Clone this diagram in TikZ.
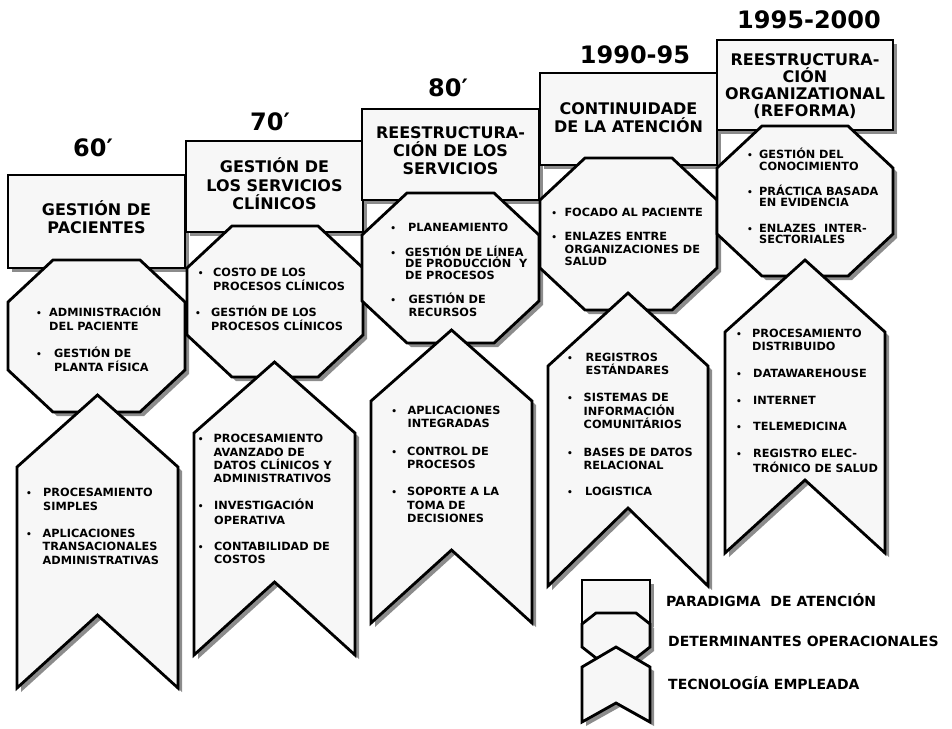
\documentclass[tikz,border=0pt]{standalone}
\usepackage{fontspec}
\setmainfont{DejaVu Sans}
\usetikzlibrary{shadows}

\definecolor{boxfill}{HTML}{F7F7F7}
\definecolor{shadegray}{HTML}{8C8C8C}

\tikzset{
  panel/.style={draw=black, line width=2.8pt, fill=boxfill, line join=miter,
    drop shadow={shadow xshift=4pt, shadow yshift=-4pt, fill=shadegray, opacity=1}},
  yearlbl/.style={font=\bfseries\fontsize{24}{24}\selectfont, anchor=base, inner sep=0pt},
  titlelbl/.style={font=\bfseries\fontsize{16}{16}\selectfont, anchor=base, inner sep=0pt},
  txt/.style={font=\bfseries\fontsize{11.3}{12}\selectfont, anchor=base west, inner sep=0pt},
  bul/.style={font=\bfseries\fontsize{9}{9}\selectfont, anchor=base, inner sep=0pt},
  legtxt/.style={font=\bfseries\fontsize{14}{14}\selectfont, anchor=base west, inner sep=0pt},
}

% rectangle panel: L, T, R, B
\newcommand\drawrectpanel[4]{%
  \draw[panel] (#1,#2) rectangle (#3,#4);}
% octagon panel: L, T, R, B, corner cut x, corner cut y
\newcommand\drawoct[6]{%
  \draw[panel] ({#1+#5},#2) -- ({#3-#5},#2) -- (#3,{#2+#6}) -- (#3,{#4-#6})
    -- ({#3-#5},#4) -- ({#1+#5},#4) -- (#1,{#4-#6}) -- (#1,{#2+#6}) -- cycle;}
% pennant panel: L, R, apex y, shoulder y, notch y, bottom y
\newcommand\drawchev[6]{%
  \draw[panel] (#1,#4) -- ({(#1+#2)/2},#3) -- (#2,#4) -- (#2,#6)
    -- ({(#1+#2)/2},#5) -- (#1,#6) -- cycle;}
% centred title lines: name, x, first baseline, line step, lines
\newcommand\titlelines[5]{%
  \foreach \txtline [count=\idx] in {#5}
    \node[titlelbl] (#1-\idx) at (#2,{#3+(\idx-1)*#4}) {\txtline};}
% bulleted item: name, bullet x, text x, first baseline, line step, lines
\newcommand\bitem[6]{%
  \node[bul] (#1-b) at (#2,#4) {•};
  \foreach \txtline [count=\idx] in {#6}
    \node[txt] (#1-\idx) at (#3,{#4+(\idx-1)*#5}) {\txtline};}

\begin{document}
\begin{tikzpicture}[x=1pt, y=-1pt]
\useasboundingbox (0,0) rectangle (952,728);

% ---------- 60' ----------
\node[yearlbl] (yr1) at (93,156) {60′};
\drawrectpanel{8}{175}{185}{268}
\titlelines{pa1}{96.5}{215}{18.3}{GESTIÓN DE,PACIENTES}
\drawoct{8}{260}{185}{412}{45}{42}
\bitem{op1a}{39}{49}{316.7}{14}{ADMINISTRACIÓN,DEL PACIENTE}
\bitem{op1b}{39}{54}{357.7}{14}{GESTIÓN DE,PLANTA FÍSICA}
\drawchev{17}{178}{395}{467}{615}{688}
\bitem{te1a}{29}{43}{496}{14}{PROCESAMIENTO,SIMPLES}
\bitem{te1b}{29}{42.5}{537.3}{13.4}{APLICACIONES,TRANSACIONALES,ADMINISTRATIVAS}

% ---------- 70' ----------
\node[yearlbl] (yr2) at (270,130.7) {70′};
\drawrectpanel{186}{141}{363}{232}
\titlelines{pa2}{274.5}{172.7}{18.3}{GESTIÓN DE,LOS SERVICIOS,CLÍNICOS}
\drawoct{187}{226}{363}{377}{45}{42}
\bitem{op2a}{200.7}{213}{276}{14.7}{COSTO DE LOS,PROCESOS CLÍNICOS}
\bitem{op2b}{198}{211}{316.7}{14}{GESTIÓN DE LOS,PROCESOS CLÍNICOS}
\drawchev{194}{355}{362}{433}{582}{655}
\bitem{te2a}{200.7}{213.5}{442.7}{13.3}{PROCESAMIENTO,AVANZADO DE,DATOS CLÍNICOS Y,ADMINISTRATIVOS}
\bitem{te2b}{200.7}{214}{509.3}{14.7}{INVESTIGACIÓN,OPERATIVA}
\bitem{te2c}{200.7}{214}{550.7}{12.6}{CONTABILIDAD DE,COSTOS}

% ---------- 80' ----------
\node[yearlbl] (yr3) at (448,96.7) {80′};
\drawrectpanel{362}{109}{539}{200}
\titlelines{pa3}{450.5}{138.3}{17.9}{REESTRUCTURA-,CIÓN DE LOS,SERVICIOS}
\drawoct{362}{193}{539}{343}{45}{42}
\bitem{op3a}{393.3}{408}{231.7}{12}{PLANEAMIENTO}
\bitem{op3b}{393.3}{405}{256}{11.7}{GESTIÓN DE LÍNEA,DE PRODUCCIÓN~ Y,DE PROCESOS}
\bitem{op3c}{393.3}{408.5}{303.3}{12.7}{GESTIÓN DE,RECURSOS}
\drawchev{371}{532}{330}{401}{550}{623}
\bitem{te3a}{394.3}{407.5}{414}{13.3}{APLICACIONES,INTEGRADAS}
\bitem{te3b}{394.3}{407}{455}{13.3}{CONTROL DE,PROCESOS}
\bitem{te3c}{394.3}{407}{495.7}{13.3}{SOPORTE A LA,TOMA DE,DECISIONES}

% ---------- 1990-95 ----------
\node[yearlbl] (yr4) at (635,63.3) {1990-95};
\drawrectpanel{540}{73}{717}{165}
\titlelines{pa4}{628.5}{114}{18.3}{CONTINUIDADE,DE LA ATENCIÓN}
\drawoct{540}{158}{717}{310}{45}{42}
\bitem{op4a}{554.3}{564.3}{216.7}{12}{FOCADO AL PACIENTE}
\bitem{op4b}{554.3}{564.5}{240.7}{12.3}{ENLAZES ENTRE,ORGANIZACIONES DE,SALUD}
\drawchev{548}{708}{293}{366}{508}{586}
\bitem{te4a}{570}{585.5}{361.7}{12.5}{REGISTROS,ESTÁNDARES}
\bitem{te4b}{570}{583.5}{401.7}{13.3}{SISTEMAS DE,INFORMACIÓN,COMUNITÁRIOS}
\bitem{te4c}{570}{583.5}{456}{13}{BASES DE DATOS,RELACIONAL}
\bitem{te4d}{570}{585}{495.7}{12}{LOGISTICA}

% ---------- 1995-2000 ----------
\node[yearlbl] (yr5) at (809,28.3) {1995-2000};
\drawrectpanel{717}{40}{893}{130}
\titlelines{pa5}{805}{65.7}{16.8}{REESTRUCTURA-,CIÓN,ORGANIZATIONAL,(REFORMA)}
\drawoct{717}{126}{893}{276}{45}{42}
\bitem{op5a}{750}{759}{158.3}{11.7}{GESTIÓN DEL,CONOCIMIENTO}
\bitem{op5b}{750}{759}{195}{11.7}{PRÁCTICA BASADA,EN EVIDENCIA}
\bitem{op5c}{750}{759}{232.3}{11}{ENLAZES~ INTER-,SECTORIALES}
\drawchev{725}{885}{260}{332}{480}{553}
\bitem{te5a}{739}{752}{337.3}{13.4}{PROCESAMIENTO,DISTRIBUIDO}
\bitem{te5b}{739}{753}{377.3}{12}{DATAWAREHOUSE}
\bitem{te5c}{739}{753}{404}{12}{INTERNET}
\bitem{te5d}{739}{753}{430.7}{12}{TELEMEDICINA}
\bitem{te5e}{739}{753}{457.3}{15}{REGISTRO ELEC-,TRÓNICO DE SALUD}

% ---------- key ----------
\drawrectpanel{582}{580}{650}{623}
\drawoct{582}{613}{650}{658}{14}{11}
\drawchev{582}{650}{647}{667}{703}{722}
\node[legtxt] (key1) at (666,606.7) {PARADIGMA~ DE ATENCIÓN};
\node[legtxt] (key2) at (668,646) {DETERMINANTES OPERACIONALES};
\node[legtxt] (key3) at (668,689.3) {TECNOLOGÍA EMPLEADA};
\end{tikzpicture}
\end{document}
